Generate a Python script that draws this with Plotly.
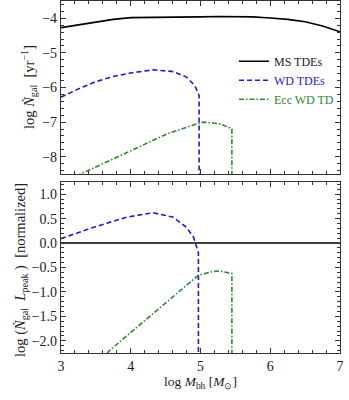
import plotly.graph_objects as go

# ---- data ----
ms_x = [3.0, 3.25, 3.5, 3.75, 4.0, 4.25, 4.5, 4.75, 5.0, 5.25, 5.5, 5.75, 6.0, 6.25, 6.5, 6.75, 7.0]
ms_top = [-4.27, -4.19, -4.11, -4.03, -3.98, -3.98, -3.98, -3.97, -3.96, -3.95, -3.95, -3.96, -3.99, -4.03, -4.1, -4.22, -4.39]
ms_bot = [0.0] * len(ms_x)

wd_x_top = [3.0, 3.25, 3.5, 3.75, 4.0, 4.32, 4.61, 4.8, 4.92, 4.98, 4.98]
wd_top = [-6.28, -6.04, -5.83, -5.68, -5.58, -5.49, -5.54, -5.70, -5.95, -6.23, -9.0]

ecc_x_top = [3.22, 3.28, 3.70, 4.09, 4.52, 4.95, 5.04, 5.28, 5.45, 5.45]
ecc_top = [-8.57, -8.5, -8.11, -7.75, -7.34, -7.05, -7.0, -7.05, -7.19, -9.0]

wd_x_bot = [3.0, 3.46, 3.94, 4.32, 4.61, 4.80, 4.90, 4.95, 4.97, 4.97]
wd_bot = [0.09, 0.32, 0.53, 0.62, 0.53, 0.32, 0.12, -0.08, -0.2, -3.0]

ecc_x_bot = [3.66, 3.68, 4.04, 4.52, 4.97, 5.18, 5.27, 5.40, 5.45, 5.45]
ecc_bot = [-2.26, -2.22, -1.78, -1.2, -0.66, -0.58, -0.57, -0.61, -0.62, -3.0]

x_ticks = [3, 4, 5, 6, 7]
top_ticks = [-8, -7, -6, -5, -4]
top_tick_text = ["\u22128", "\u22127", "\u22126", "\u22125", "\u22124"]
bot_ticks = [-2, -1.5, -1, -0.5, 0, 0.5, 1]
bot_tick_text = ["\u22122.0", "\u22121.5", "\u22121.0", "\u22120.5", "0.0", "0.5", "1.0"]

BLUE = "#1c1cc8"
GREEN = "#2e862e"
FONT = "'Liberation Serif', 'Times New Roman', Times, serif"

fig = go.Figure()
fig.add_trace(go.Scatter(x=ms_x, y=ms_top, mode="lines", line=dict(color="black", width=1.6),
                         name="MS TDEs", xaxis="x", yaxis="y"))
fig.add_trace(go.Scatter(x=wd_x_top, y=wd_top, mode="lines", line=dict(color=BLUE, width=1.6, dash="5px,3px"),
                         name="<span style='color:%s'>WD TDEs</span>" % BLUE, xaxis="x", yaxis="y"))
fig.add_trace(go.Scatter(x=ecc_x_top, y=ecc_top, mode="lines",
                         line=dict(color=GREEN, width=1.6, dash="5px,2px,1.5px,2px"),
                         name="<span style='color:%s'>Ecc WD TD</span>" % GREEN, xaxis="x", yaxis="y"))
fig.add_trace(go.Scatter(x=ms_x, y=ms_bot, mode="lines", line=dict(color="black", width=1.6),
                         showlegend=False, xaxis="x2", yaxis="y2"))
fig.add_trace(go.Scatter(x=wd_x_bot, y=wd_bot, mode="lines", line=dict(color=BLUE, width=1.6, dash="5px,3px"),
                         showlegend=False, xaxis="x2", yaxis="y2"))
fig.add_trace(go.Scatter(x=ecc_x_bot, y=ecc_bot, mode="lines",
                         line=dict(color=GREEN, width=1.6, dash="5px,2px,1.5px,2px"),
                         showlegend=False, xaxis="x2", yaxis="y2"))

axis_common = dict(showline=True, linecolor="#333", linewidth=1.2, mirror="ticks", ticks="inside",
                   ticklen=5, tickwidth=1, tickcolor="#333", showgrid=False, zeroline=False,
                   tickfont=dict(family=FONT, size=14, color="#222"))
minor_x = dict(dtick=0.2, ticks="inside", ticklen=2.5, tickcolor="#333")

fig.update_layout(
    width=349, height=400,
    margin=dict(l=61, r=9, t=1, b=47),
    paper_bgcolor="white", plot_bgcolor="white",
    font=dict(family=FONT, size=13, color="#222"),
    showlegend=True,
    legend=dict(x=0.62, y=0.87, xanchor="left", yanchor="top", bgcolor="rgba(0,0,0,0)",
                font=dict(family=FONT, size=12), itemwidth=30, tracegroupgap=0),
    xaxis=dict(range=[3, 7], domain=[0, 1], anchor="y", tickvals=x_ticks, showticklabels=False,
               minor=minor_x, **axis_common),
    yaxis=dict(range=[-8.5, -3.5], domain=[0.5085, 1], anchor="x",
               tickvals=top_ticks, ticktext=top_tick_text,
               minor=dict(dtick=0.2, ticks="inside", ticklen=2.5, tickcolor="#333"),
               **axis_common),
    xaxis2=dict(range=[3, 7], domain=[0, 1], anchor="y2", tickvals=x_ticks,
                ticktext=[str(v) for v in x_ticks], ticklabeloverflow="allow",
                minor=minor_x, **axis_common),
    yaxis2=dict(range=[-2.25, 1.25], domain=[0, 0.4858], anchor="x2",
                tickvals=bot_ticks, ticktext=bot_tick_text,
                minor=dict(dtick=0.1, ticks="inside", ticklen=2.5, tickcolor="#333"),
                **axis_common),
)

fig.add_annotation(text="log <i>N\u0307</i><sub>gal</sub>  [yr<sup>\u22121</sup>]",
                   xref="paper", yref="paper", x=-0.1147, y=0.7557, xanchor="center", yanchor="middle",
                   textangle=-90, showarrow=False, font=dict(family=FONT, size=14.5, color="#222"))
fig.add_annotation(text="log (<i>N\u0307</i><sub>gal</sub>  <i>L</i><sub>peak</sub> )  [normalized]",
                   xref="paper", yref="paper", x=-0.1434, y=0.2358, xanchor="center", yanchor="middle",
                   textangle=-90, showarrow=False, font=dict(family=FONT, size=14.5, color="#222"))
fig.add_annotation(text="log <i>M</i><sub>bh</sub> [<i>M</i><sub>\u2299</sub>]",
                   xref="paper", yref="paper", x=0.5, y=-0.0852, xanchor="center", yanchor="middle",
                   showarrow=False, font=dict(family=FONT, size=13.5, color="#222"))

fig.write_html("out.html", config={"displayModeBar": False},
               post_script="document.body.style.margin='0';")
